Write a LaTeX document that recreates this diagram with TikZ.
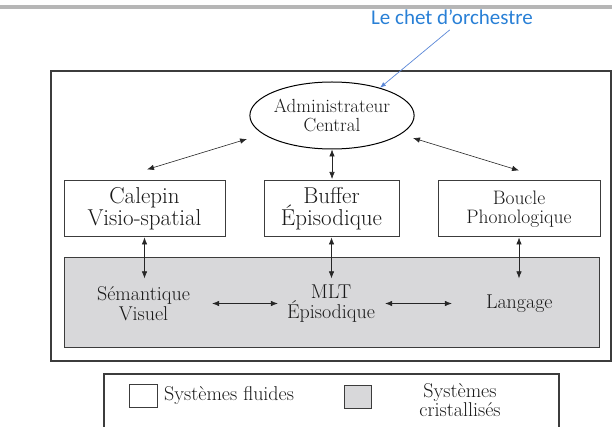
\documentclass[tikz,border=0pt]{standalone}
\usepackage{fontspec}
\newfontfamily\calibri{Carlito}
\usetikzlibrary{arrows.meta,positioning,shapes.geometric}
\definecolor{bande}{RGB}{216,216,218}
\definecolor{trait}{RGB}{60,60,60}
\definecolor{note}{RGB}{41,128,214}
\definecolor{notetrait}{RGB}{90,135,215}
\definecolor{barre}{RGB}{182,182,182}

\begin{document}
\begin{tikzpicture}[x=1pt,y=-1pt,every node/.style={text=black!90},
		boite/.style={draw=trait,line width=1pt,rectangle,inner sep=0pt,minimum height=56pt,align=center},
		dbl/.style={{Latex[length=7pt,width=5.5pt]}-{Latex[length=7pt,width=5.5pt]},line width=0.6pt,draw=black!85},
		grand/.style={font=\fontsize{23}{22}\selectfont},
		moyen/.style={font=\fontsize{19.5}{19}\selectfont},
		gris/.style={font=\fontsize{20}{20}\selectfont,inner sep=0pt,minimum height=50pt,align=center},
		legende/.style={font=\fontsize{20}{19}\selectfont,inner sep=0pt,align=center}]
	\useasboundingbox (0,0) rectangle (612,427);
	\clip (0,0) rectangle (612,427);
	\fill[barre] (0,5.5) rectangle (612,9.5);
	\draw[trait,line width=1.3pt] (51,71) rectangle (611,361);
	\draw[trait,line width=1.1pt] (104,374) rectangle (559,440);

	\node[ellipse,draw=black,line width=1pt,minimum width=161pt,minimum height=67pt,inner sep=0pt,align=center,
		font=\fontsize{19}{19}\selectfont] (admin) at (332,115.5) {Administrateur\\Central};
	\node[boite,grand,minimum width=161pt] (calepin) at (144.5,209) {Calepin\\Visio-spatial};
	\node[boite,grand,minimum width=135pt] (buffer) at (331.5,209) {Buffer\\Épisodique};
	\node[boite,moyen,minimum width=162pt] (boucle) at (519,209) {Boucle\\Phonologique};

	\node[draw=trait,line width=1pt,fill=bande,minimum width=535pt,minimum height=89pt,inner sep=0pt] (memoire) at (331.5,302.5) {};
	\node[gris,text width=94pt] (semantique) at (143.5,303.5) {Sémantique\\Visuel};
	\node[gris,text width=96pt] (mlt) at (331,303.5) {MLT\\Épisodique};
	\node[gris,text width=66pt] (langage) at (519,303.5) {Langage};

	\draw[dbl] ([shift={(2.5,-11)}]calepin.north) -- ([shift={(-85,23.5)}]admin.center);
	\draw[dbl] ([shift={(81,22.5)}]admin.center) -- ([shift={(0,-10)}]boucle.north);
	\draw[dbl,shorten >=1.5pt] (admin.south) -- (admin.south |- buffer.north);
	\foreach \a/\b in {calepin/semantique,buffer/mlt,boucle/langage}
		\draw[dbl] (\a.south) -- (\a.south |- \b.north);
	\draw[dbl,shorten <=21.5pt,shorten >=5pt] (semantique.east) -- (mlt.west);
	\draw[dbl,shorten <=6pt,shorten >=34pt] (mlt.east) -- (langage.west);

	\node[draw=trait,line width=1pt,minimum width=28pt,minimum height=23pt,inner sep=0pt] (carreblanc) at (143.5,395.5) {};
	\node[legende,right=6pt of carreblanc] (fluides) {Systèmes fluides};
	\node[draw=trait,line width=1pt,fill=bande,minimum width=27pt,minimum height=23pt,inner sep=0pt] (carregris) at (357.5,396.5) {};
	\node[legende] (cristallises) at (460,400.5) {Systèmes\\cristallisés};

	\node[font=\calibri\fontsize{21}{24}\selectfont,text=note] (chef) at (452,17) {Le chet d’orchestre};
	\draw[notetrait,line width=0.7pt,-{Latex[length=6pt,width=4.5pt]},shorten <=3pt] (chef.south) -- (admin.30);
\end{tikzpicture}
\end{document}
